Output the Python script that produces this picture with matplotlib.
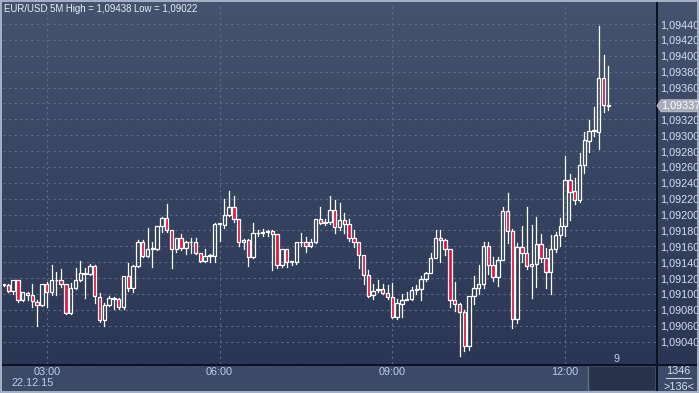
import numpy as np
import matplotlib
matplotlib.use("Agg")
import matplotlib.pyplot as plt
from matplotlib.patches import Rectangle, Polygon
from matplotlib.colors import LinearSegmentedColormap
from matplotlib.lines import Line2D

# --- DATA (EUR/USD, 5 minute candles, 02:15 .. 12:45) ---
opens = [1.09112, 1.09111, 1.09104, 1.09117, 1.09093, 1.09101, 1.09099, 1.09090, 1.09086, 1.09112,
         1.09102, 1.09117, 1.09117, 1.09112, 1.09076, 1.09107, 1.09117, 1.09127, 1.09125, 1.09135,
         1.09096, 1.09067, 1.09086, 1.09094, 1.09094, 1.09083, 1.09123, 1.09107, 1.09135, 1.09166,
         1.09148, 1.09157, 1.09157, 1.09185, 1.09196, 1.09181, 1.09156, 1.09170, 1.09158, 1.09165,
         1.09165, 1.09151, 1.09141, 1.09148, 1.09148, 1.09188, 1.09187, 1.09199, 1.09210, 1.09194,
         1.09165, 1.09168, 1.09146, 1.09177, 1.09177, 1.09178, 1.09179, 1.09175, 1.09137, 1.09156,
         1.09140, 1.09140, 1.09166, 1.09166, 1.09160, 1.09165, 1.09194, 1.09190, 1.09191, 1.09206,
         1.09184, 1.09193, 1.09188, 1.09170, 1.09165, 1.09149, 1.09124, 1.09099, 1.09105, 1.09106,
         1.09101, 1.09096, 1.09071, 1.09087, 1.09093, 1.09094, 1.09105, 1.09106, 1.09119, 1.09126,
         1.09145, 1.09170, 1.09168, 1.09157, 1.09093, 1.09087, 1.09077, 1.09034, 1.09097, 1.09107,
         1.09112, 1.09160, 1.09137, 1.09121, 1.09143, 1.09204, 1.09179, 1.09069, 1.09159, 1.09151,
         1.09135, 1.09138, 1.09163, 1.09145, 1.09128, 1.09156, 1.09174, 1.09185, 1.09244, 1.09230,
         1.09218, 1.09262, 1.09293, 1.09305, 1.09304, 1.09372, 1.09338]
highs = [1.09113, 1.09113, 1.09118, 1.09118, 1.09102, 1.09102, 1.09112, 1.09092, 1.09113, 1.09115,
         1.09136, 1.09128, 1.09132, 1.09113, 1.09114, 1.09133, 1.09141, 1.09133, 1.09138, 1.09136,
         1.09101, 1.09088, 1.09097, 1.09096, 1.09095, 1.09123, 1.09139, 1.09136, 1.09168, 1.09168,
         1.09183, 1.09165, 1.09186, 1.09197, 1.09213, 1.09181, 1.09170, 1.09176, 1.09167, 1.09170,
         1.09171, 1.09152, 1.09156, 1.09150, 1.09189, 1.09190, 1.09219, 1.09230, 1.09224, 1.09194,
         1.09169, 1.09169, 1.09189, 1.09181, 1.09182, 1.09181, 1.09180, 1.09176, 1.09156, 1.09156,
         1.09142, 1.09166, 1.09177, 1.09172, 1.09169, 1.09194, 1.09209, 1.09195, 1.09223, 1.09218,
         1.09214, 1.09202, 1.09195, 1.09180, 1.09166, 1.09149, 1.09130, 1.09113, 1.09117, 1.09113,
         1.09111, 1.09114, 1.09094, 1.09100, 1.09102, 1.09109, 1.09111, 1.09123, 1.09128, 1.09151,
         1.09181, 1.09180, 1.09169, 1.09157, 1.09115, 1.09088, 1.09080, 1.09098, 1.09123, 1.09137,
         1.09165, 1.09165, 1.09147, 1.09147, 1.09210, 1.09227, 1.09182, 1.09164, 1.09185, 1.09210,
         1.09187, 1.09197, 1.09176, 1.09158, 1.09174, 1.09178, 1.09196, 1.09274, 1.09251, 1.09246,
         1.09277, 1.09304, 1.09319, 1.09335, 1.09438, 1.09401, 1.09387]
lows = [1.09110, 1.09103, 1.09100, 1.09090, 1.09091, 1.09092, 1.09083, 1.09060, 1.09085, 1.09083,
        1.09099, 1.09099, 1.09109, 1.09075, 1.09075, 1.09106, 1.09116, 1.09095, 1.09124, 1.09088,
        1.09065, 1.09060, 1.09085, 1.09081, 1.09081, 1.09081, 1.09104, 1.09102, 1.09134, 1.09146,
        1.09146, 1.09134, 1.09155, 1.09178, 1.09178, 1.09133, 1.09153, 1.09155, 1.09150, 1.09151,
        1.09150, 1.09140, 1.09140, 1.09140, 1.09140, 1.09167, 1.09183, 1.09198, 1.09191, 1.09161,
        1.09157, 1.09135, 1.09145, 1.09173, 1.09173, 1.09173, 1.09130, 1.09133, 1.09134, 1.09134,
        1.09137, 1.09138, 1.09161, 1.09153, 1.09159, 1.09164, 1.09188, 1.09187, 1.09188, 1.09177,
        1.09181, 1.09177, 1.09167, 1.09159, 1.09133, 1.09112, 1.09096, 1.09094, 1.09102, 1.09100,
        1.09094, 1.09070, 1.09069, 1.09071, 1.09092, 1.09093, 1.09100, 1.09092, 1.09116, 1.09126,
        1.09145, 1.09140, 1.09149, 1.09084, 1.09078, 1.09022, 1.09028, 1.09029, 1.09087, 1.09100,
        1.09107, 1.09125, 1.09116, 1.09110, 1.09143, 1.09164, 1.09057, 1.09063, 1.09140, 1.09132,
        1.09095, 1.09109, 1.09140, 1.09108, 1.09100, 1.09153, 1.09160, 1.09173, 1.09193, 1.09213,
        1.09216, 1.09252, 1.09279, 1.09299, 1.09282, 1.09329, 1.09332]
closes = [1.09111, 1.09104, 1.09117, 1.09093, 1.09102, 1.09099, 1.09091, 1.09086, 1.09112, 1.09102,
          1.09117, 1.09118, 1.09112, 1.09076, 1.09107, 1.09117, 1.09127, 1.09125, 1.09135, 1.09097,
          1.09067, 1.09086, 1.09095, 1.09095, 1.09083, 1.09123, 1.09107, 1.09135, 1.09166, 1.09148,
          1.09157, 1.09158, 1.09185, 1.09196, 1.09181, 1.09156, 1.09170, 1.09158, 1.09165, 1.09166,
          1.09151, 1.09141, 1.09148, 1.09149, 1.09188, 1.09189, 1.09199, 1.09210, 1.09194, 1.09165,
          1.09168, 1.09146, 1.09177, 1.09177, 1.09178, 1.09179, 1.09175, 1.09137, 1.09156, 1.09140,
          1.09141, 1.09166, 1.09166, 1.09160, 1.09166, 1.09194, 1.09190, 1.09191, 1.09206, 1.09184,
          1.09193, 1.09188, 1.09170, 1.09165, 1.09149, 1.09124, 1.09098, 1.09104, 1.09106, 1.09101,
          1.09096, 1.09071, 1.09088, 1.09093, 1.09094, 1.09105, 1.09106, 1.09119, 1.09126, 1.09145,
          1.09170, 1.09168, 1.09157, 1.09093, 1.09087, 1.09077, 1.09034, 1.09097, 1.09107, 1.09112,
          1.09160, 1.09137, 1.09121, 1.09143, 1.09204, 1.09179, 1.09069, 1.09159, 1.09151, 1.09135,
          1.09138, 1.09163, 1.09145, 1.09128, 1.09156, 1.09174, 1.09185, 1.09244, 1.09229, 1.09218,
          1.09262, 1.09294, 1.09305, 1.09306, 1.09372, 1.09338, 1.09337]

time_ticks = [9, 45, 81, 117]
time_labels = ["03:00", "06:00", "09:00", "12:00"]
date_label = "22.12.15"
price_grid = [1.0904 + 0.0002 * k for k in range(21)]
hidden_tick = 1.0934   # covered by the last price marker
title = "EUR/USD 5M High = 1,09438 Low = 1,09022"

# --- LAYOUT (pixels) ---
W, H = 699, 393
def fx(px):
    return px / W
def fy(py):
    return 1 - py / H

BG_TOP, BG_BOT = "#45536f", "#2a3654"
PANEL = "#3d4a67"
TXT = "#d4def0"
TXT_T = "#b9d0ee"
RED = "#e0163e"
FONT = "Liberation Sans"
FS = 7.8

fig = plt.figure(figsize=(W / 100, H / 100), dpi=100, facecolor=PANEL)

# gradient behind plot and right scale
grad = LinearSegmentedColormap.from_list("bg", [BG_BOT, BG_TOP])
bg = fig.add_axes([fx(2), fy(364), (W - 2) / W, 362 / H], zorder=0)
bg.imshow(np.linspace(0, 1, 256).reshape(-1, 1), cmap=grad, aspect="auto",
          extent=[0, 1, 0, 1], origin="lower")
bg.set_axis_off()

ax = fig.add_axes([fx(3), fy(364), (656.5 - 3) / W, (364 - 3) / H], zorder=2)
ax.patch.set_alpha(0)
for s in ax.spines.values():
    s.set_visible(False)

px_per = 4.8
x0 = 3.5
ax.set_xlim((3 - x0) / px_per, (656.5 - x0) / px_per)
ax.set_ylim(1.0944 - 340 / 79400, 1.0944 + 21 / 79400)

# grid
for lv in price_grid:
    ax.axhline(lv, color="#5d6c8c", lw=0.8, ls=(0, (2, 3)), zorder=1)
for t in time_ticks:
    ax.axvline(t, color="#5d6c8c", lw=0.8, ls=(0, (2, 3)), zorder=1)

# candles
bw = 0.68
for i, (o, h, l, c) in enumerate(zip(opens, highs, lows, closes)):
    top, bot = max(o, c), min(o, c)
    ax.add_line(Line2D([i, i], [top, h], color="white", lw=0.9, zorder=3))
    ax.add_line(Line2D([i, i], [l, bot], color="white", lw=0.9, zorder=3))
    fc = RED if c < o else "none"
    ax.add_patch(Rectangle((i - bw / 2, bot), bw, top - bot, facecolor=fc,
                           edgecolor="white", lw=0.9, zorder=4))

# axes ticks
ax.yaxis.tick_right()
ax.set_yticks(price_grid)
ax.set_yticklabels(["" if abs(v - hidden_tick) < 1e-7 else f"{v:.5f}".replace(".", ",")
                    for v in price_grid])
ax.tick_params(axis="y", length=0, pad=2.3, labelsize=FS, labelcolor=TXT)
ax.set_xticks(time_ticks)
ax.set_xticklabels(time_labels)
ax.tick_params(axis="x", length=0, pad=2.5, labelsize=FS, labelcolor=TXT_T)
for lab in ax.get_xticklabels() + ax.get_yticklabels():
    lab.set_family(FONT)

# last price marker
last = closes[-1]
y_last = H - ax.transData.transform((0, last))[1]
fig.add_artist(Polygon([(fx(657), fy(y_last)), (fx(661), fy(y_last - 6)), (fx(698), fy(y_last - 6)),
                        (fx(698), fy(y_last + 6)), (fx(661), fy(y_last + 6))],
                       closed=True, facecolor="#a6acb8", edgecolor="#c4c9d2", lw=0.6, zorder=6))
fig.text(fx(661), fy(y_last), f"{last:.5f}".replace(".", ","), ha="left", va="center",
         fontsize=FS, family=FONT, color="white", zorder=7)

# texts
fig.text(fx(4), fy(8.5), title, ha="left", va="center", fontsize=6.9,
         family=FONT, color="#e8eef8")
fig.text(fx(11), fy(383), date_label, ha="left", va="center", fontsize=FS,
         family=FONT, color=TXT_T)
fig.text(fx(616), fy(359), "9", ha="center", va="center", fontsize=FS,
         family=FONT, color=TXT_T, zorder=5)
fig.text(fx(678.5), fy(370.5), "1346", ha="center", va="center", fontsize=FS,
         family=FONT, color=TXT)
fig.text(fx(678.5), fy(386.5), ">136<", ha="center", va="center", fontsize=FS,
         family=FONT, color=TXT)
fig.add_artist(Line2D([fx(666), fx(691)], [fy(378), fy(378)], color="#c8d2e4", lw=0.8))

# bottom panel decorations
fig.add_artist(Rectangle((fx(589), fy(390)), (655 - 589) / W, 23 / H,
                         facecolor="#28324b", edgecolor="none", zorder=1))
fig.add_artist(Line2D([fx(587.5), fx(587.5)], [fy(367), fy(390)], color="#66728c", lw=1))

# separators and frame
fig.add_artist(Line2D([fx(2), fx(W)], [fy(364.5), fy(364.5)], color="#0b1120", lw=1.4, zorder=3))
fig.add_artist(Line2D([fx(656.5), fx(656.5)], [fy(2), fy(392)], color="#0b1120", lw=1.4, zorder=3))
fig.add_artist(Rectangle((fx(0.8), fy(392.2)), (W - 1.6) / W, 391.4 / H, facecolor="none",
                         edgecolor="#a8b2c6", lw=1.4, zorder=4))

fig.savefig("out.png", dpi=100, facecolor=PANEL)
